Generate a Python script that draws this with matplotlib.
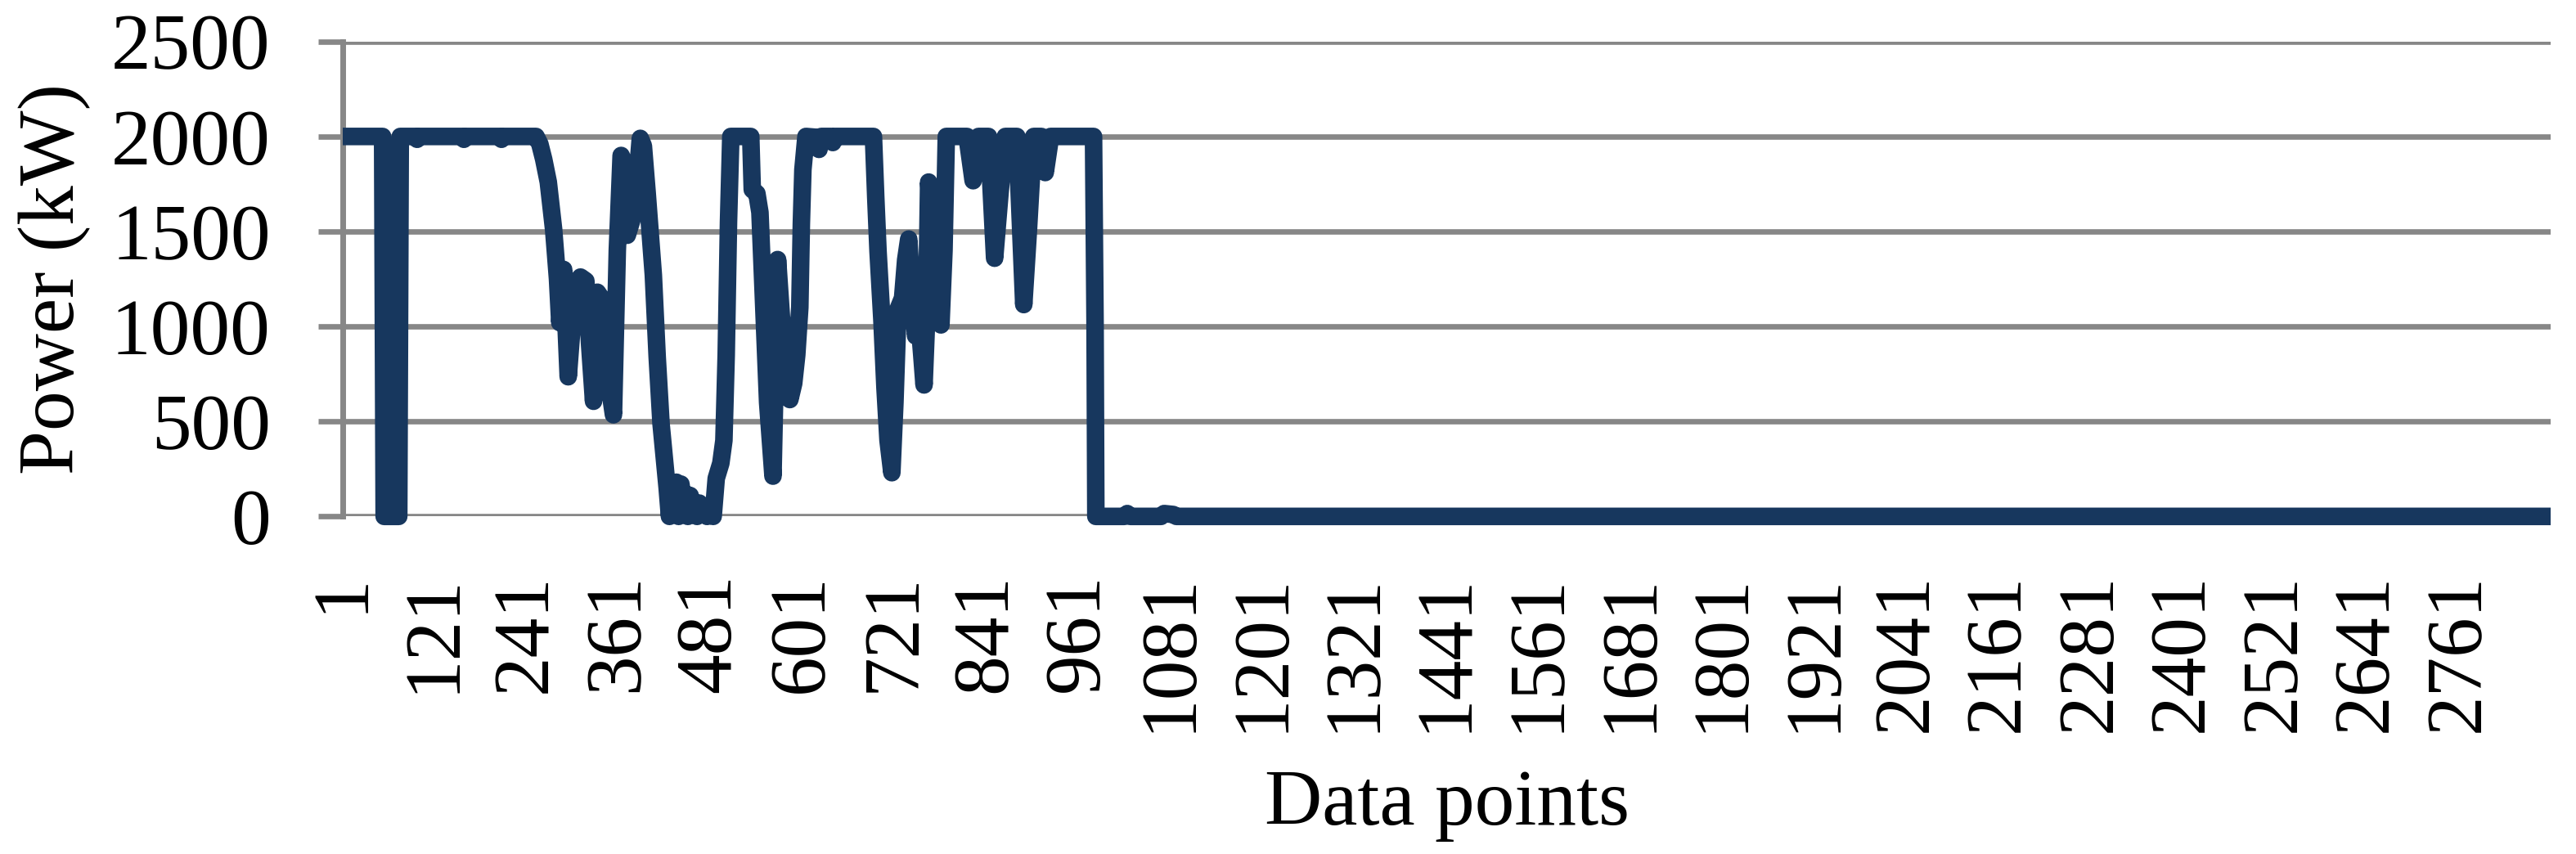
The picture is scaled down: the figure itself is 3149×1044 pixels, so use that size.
import matplotlib
matplotlib.use("Agg")
import matplotlib.pyplot as plt

# ---- data (data point index, power in kW) ----
point_index = [
    1, 53, 55, 74, 76, 97, 98, 100, 158, 159, 161, 207, 208, 210,
    253, 258, 263, 269, 276, 281, 284, 289, 295, 300, 305, 311, 318, 323, 328,
    333, 338, 343, 348, 354, 359, 364, 369, 372, 378, 384, 389, 393, 398, 406,
    411, 416, 421, 424, 427, 430, 433, 436, 439, 442, 445, 448, 451, 454, 457,
    460, 463, 466, 469, 472, 476, 480, 484, 488, 494, 498, 501, 504, 507, 533,
    535, 541, 545, 550, 555, 562, 568, 573, 578, 584, 589, 593, 597, 599, 601,
    605, 620, 622, 625, 638, 640, 643, 693, 696, 699, 704, 708, 712, 717, 721,
    725, 731, 735, 739, 743, 748, 752, 756, 759, 762, 765, 770, 775, 781, 785,
    788, 815, 823, 830, 843, 851, 858, 865, 880, 889, 895, 902, 912, 917, 924,
    980, 982, 983, 1020, 1024, 1028, 1068, 1072, 1084, 1088, 2880,
]
power_kw = [
    2000, 2000, 0, 0, 2000, 2000, 1985, 2000, 2000, 1985, 2000, 2000, 1985, 2000,
    2000, 1960, 1880, 1760, 1509, 1251, 1020, 1300, 735, 1000, 1230, 1260, 1240, 900, 606,
    1180, 1150, 800, 700, 535, 1400, 1900, 1850, 1480, 1560, 1740, 1990, 1950, 1700, 1270,
    840, 490, 280, 150, 0, 180, 20, 180, 0, 170, 10, 120, 0, 110, 20,
    60, 0, 70, 10, 50, 0, 40, 0, 200, 280, 400, 850, 1550, 2000, 2000,
    1720, 1700, 1600, 1100, 600, 212, 1352, 1050, 900, 615, 700, 850, 1100, 1540, 1825,
    2000, 1995, 1932, 2000, 2000, 1968, 2000, 2000, 1680, 1394, 1036, 679, 400, 230, 600,
    1090, 1150, 1350, 1460, 1200, 950, 1050, 850, 692, 1000, 1760, 1500, 1150, 1008, 1400,
    2000, 2000, 1767, 2000, 2000, 1359, 1700, 2000, 2000, 1115, 1500, 2000, 2000, 1810, 2000,
    2000, 1000, 0, 0, 15, 0, 0, 15, 10, 0, 0,
]
n_points = 2880
x_tick_values = list(range(1, 2762, 120))
y_tick_values = [0, 500, 1000, 1500, 2000, 2500]

# ---- styling ----
W, H = 3149, 1044
line_color = "#17375E"
grid_color = "#878787"
serif = ["Liberation Serif", "DejaVu Serif"]
fs = 70

fig = plt.figure(figsize=(W / 100, H / 100), dpi=100)
left_px, right_px, top_px, bottom_px = 419, 3118, 50.7, 631.3
ax = fig.add_axes([left_px / W, 1 - bottom_px / H,
                   (right_px - left_px) / W, (bottom_px - top_px) / H])

ax.plot(point_index, power_kw, color=line_color, lw=15.5,
        solid_joinstyle="round", solid_capstyle="butt",
        clip_on=False, zorder=3)

ax.set_xlim(1, n_points)
ax.set_ylim(0, 2500)

ax.set_yticks(y_tick_values)
ax.set_yticklabels([str(v) for v in y_tick_values], fontfamily=serif, fontsize=fs)
ax.set_xticks(x_tick_values)
ax.set_xticklabels([str(v) for v in x_tick_values], fontfamily=serif,
                   fontsize=fs, rotation=90)

ax.yaxis.grid(True, color=grid_color, lw=4.8)
ax.set_axisbelow(True)
ax.tick_params(axis="y", direction="out", length=21.6, width=4.8,
               color=grid_color, pad=42, labelcolor="black")
ax.tick_params(axis="x", length=0, pad=50, labelcolor="black")

for s in ["top", "right", "bottom"]:
    ax.spines[s].set_visible(False)
ax.spines["left"].set_color(grid_color)
ax.spines["left"].set_linewidth(5)
ax.spines["left"].set_zorder(1)

fig.text(67 / W, 1 - ((top_px + bottom_px) / 2) / H, "Power (kW)",
         rotation=90, ha="center", va="center", fontfamily=serif, fontsize=fs)
fig.text(((left_px + right_px) / 2) / W, 1 - 1008 / H, "Data points",
         ha="center", va="baseline", fontfamily=serif, fontsize=fs)

fig.savefig("out.png", dpi=100, facecolor="white")
